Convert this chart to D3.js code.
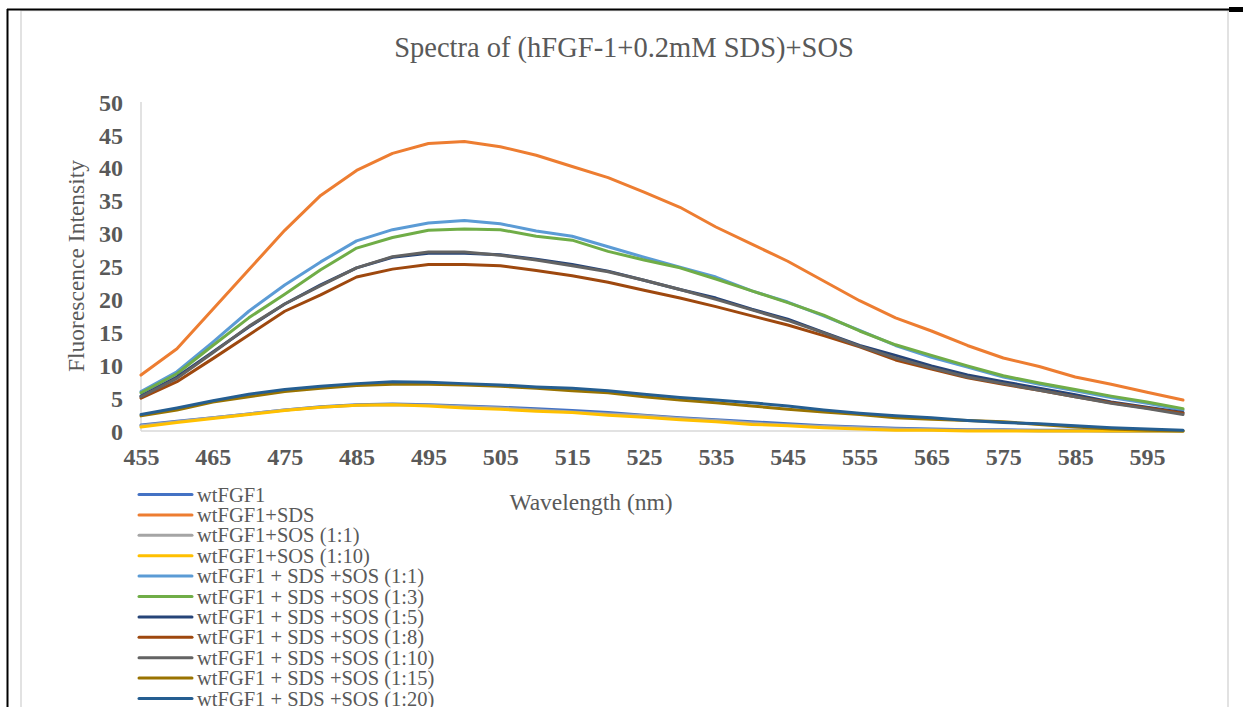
<!DOCTYPE html>
<meta charset="utf-8">
<title>Spectra of (hFGF-1+0.2mM SDS)+SOS</title>
<style>
body { margin: 0; background: #fff; }
svg { display: block; font-family: "Times New Roman", "Liberation Serif", serif; }
.tick text { fill: #595959; font-weight: bold; font-size: 24px; font-family: "Times New Roman", "Liberation Serif", serif; }
</style>
<svg width="1243" height="707"></svg>
<script src="https://cdn.jsdelivr.net/npm/d3@7"></script>
<script>

// wavelengths (nm), one point every 5 nm
var wavelength = [455, 460, 465, 470, 475, 480, 485, 490, 495, 500,
                  505, 510, 515, 520, 525, 530, 535, 540, 545, 550,
                  555, 560, 565, 570, 575, 580, 585, 590, 595, 600];

var xTicks = [455, 465, 475, 485, 495, 505, 515, 525, 535, 545, 555, 565, 575, 585, 595];
var yTicks = [0, 5, 10, 15, 20, 25, 30, 35, 40, 45, 50];

// series values
var wtFGF1 = [0.9, 1.5, 2.0, 2.6, 3.2, 3.7, 4.0, 4.1, 4.0, 3.8, 3.6, 3.4, 3.1, 2.8, 2.4, 2.0, 1.7, 1.4, 1.1, 0.8, 0.6, 0.4, 0.3, 0.2, 0.2, 0.1, 0.1, 0.0, 0.0, 0.0];
var wtSDS = [8.5, 12.5, 18.5, 24.5, 30.5, 35.8, 39.6, 42.2, 43.7, 44.0, 43.2, 41.9, 40.2, 38.5, 36.3, 34.0, 31.0, 28.4, 25.8, 22.8, 19.8, 17.2, 15.2, 13.0, 11.1, 9.8, 8.2, 7.1, 5.9, 4.7];
var wtSOS11 = [0.8, 1.4, 2.0, 2.6, 3.2, 3.6, 3.9, 4.0, 3.9, 3.7, 3.5, 3.2, 2.9, 2.6, 2.3, 1.9, 1.6, 1.2, 0.9, 0.7, 0.5, 0.3, 0.2, 0.1, 0.1, 0.0, 0.0, 0.0, 0.0, 0.0];
var wtSOS110 = [0.6, 1.3, 1.9, 2.5, 3.1, 3.6, 3.9, 4.0, 3.8, 3.5, 3.3, 3.0, 2.8, 2.4, 2.1, 1.7, 1.4, 1.0, 0.8, 0.5, 0.3, 0.1, 0.1, 0.0, 0.0, 0.0, 0.0, 0.0, 0.0, 0.0];
var sdsSOS11 = [6.0, 9.0, 13.5, 18.2, 22.2, 25.7, 28.9, 30.6, 31.6, 32.0, 31.5, 30.4, 29.6, 28.0, 26.4, 24.9, 23.4, 21.3, 19.6, 17.5, 15.3, 13.0, 11.2, 9.7, 8.2, 7.1, 6.1, 5.1, 4.2, 3.2];
var sdsSOS13 = [5.8, 8.7, 13.0, 17.2, 20.8, 24.5, 27.8, 29.4, 30.5, 30.7, 30.6, 29.6, 29.0, 27.3, 26.0, 24.8, 23.1, 21.3, 19.5, 17.6, 15.2, 13.1, 11.5, 9.9, 8.4, 7.3, 6.3, 5.3, 4.4, 3.4];
var sdsSOS15 = [5.3, 8.2, 12.0, 15.8, 19.3, 22.2, 24.8, 26.4, 27.0, 27.0, 26.8, 26.1, 25.3, 24.3, 22.9, 21.5, 20.2, 18.5, 17.0, 15.0, 13.0, 11.5, 9.9, 8.5, 7.5, 6.5, 5.5, 4.4, 3.6, 2.8];
var sdsSOS18 = [5.0, 7.5, 11.0, 14.6, 18.2, 20.7, 23.4, 24.6, 25.3, 25.3, 25.1, 24.4, 23.6, 22.6, 21.4, 20.2, 18.9, 17.5, 16.1, 14.5, 12.8, 10.8, 9.4, 8.1, 7.1, 6.2, 5.2, 4.3, 3.5, 2.7];
var sdsSOS110 = [5.2, 8.0, 11.9, 15.9, 19.3, 22.1, 24.8, 26.5, 27.2, 27.2, 26.7, 26.0, 25.1, 24.2, 22.9, 21.5, 20.0, 18.4, 16.8, 14.9, 12.9, 11.1, 9.6, 8.2, 7.2, 6.2, 5.2, 4.2, 3.4, 2.5];
var sdsSOS115 = [2.3, 3.2, 4.4, 5.2, 6.0, 6.5, 6.9, 7.1, 7.1, 7.0, 6.8, 6.5, 6.1, 5.8, 5.2, 4.7, 4.3, 3.8, 3.3, 2.9, 2.5, 2.0, 1.8, 1.6, 1.4, 1.0, 0.6, 0.3, 0.1, 0.0];
var sdsSOS120 = [2.5, 3.5, 4.6, 5.6, 6.3, 6.8, 7.2, 7.5, 7.4, 7.2, 7.0, 6.7, 6.5, 6.1, 5.6, 5.1, 4.7, 4.3, 3.8, 3.2, 2.7, 2.3, 2.0, 1.6, 1.3, 1.1, 0.8, 0.5, 0.3, 0.1];

var seriesNames = ["wtFGF1", "wtFGF1+SDS", "wtFGF1+SOS (1:1)", "wtFGF1+SOS (1:10)",
  "wtFGF1 + SDS +SOS (1:1)", "wtFGF1 + SDS +SOS (1:3)", "wtFGF1 + SDS +SOS (1:5)",
  "wtFGF1 + SDS +SOS (1:8)", "wtFGF1 + SDS +SOS (1:10)", "wtFGF1 + SDS +SOS (1:15)",
  "wtFGF1 + SDS +SOS (1:20)"];
var seriesValues = [wtFGF1, wtSDS, wtSOS11, wtSOS110, sdsSOS11, sdsSOS13, sdsSOS15,
  sdsSOS18, sdsSOS110, sdsSOS115, sdsSOS120];
var seriesColors = ["#4472c4", "#ed7d31", "#a5a5a5", "#ffc000", "#5b9bd5", "#70ad47",
  "#264478", "#9e480e", "#636363", "#997300", "#255e91"];

var svg = d3.select("svg");

// outer frame (black) and chart area (light grey)
svg.append("rect").attr("x", 21).attr("y", 10.5).attr("width", 1207).attr("height", 720)
  .attr("fill", "none").attr("stroke", "#d9d9d9").attr("stroke-width", 1.5);
svg.append("line").attr("x1", 7).attr("x2", 1243).attr("y1", 9.5).attr("y2", 9.5)
  .attr("stroke", "#000").attr("stroke-width", 2);
svg.append("line").attr("x1", 7.5).attr("x2", 7.5).attr("y1", 9).attr("y2", 707)
  .attr("stroke", "#000").attr("stroke-width", 2);
svg.append("rect").attr("x", 1229).attr("y", 7).attr("width", 14).attr("height", 5).attr("fill", "#000");

var x = d3.scaleLinear().domain([455, 600]).range([141, 1183]);
var y = d3.scaleLinear().domain([0, 50]).range([431, 102]);

// title
svg.append("text")
  .attr("x", 624).attr("y", 57)
  .attr("text-anchor", "middle")
  .attr("fill", "#595959")
  .style("font-size", "28.5px")
  .text("Spectra of (hFGF-1+0.2mM SDS)+SOS");

// axes
var xAxis = svg.append("g")
  .attr("transform", "translate(0,431)")
  .call(d3.axisBottom(x).tickValues(xTicks).tickSize(0).tickPadding(17).tickFormat(d3.format("d")));
xAxis.select(".domain").remove();

var yAxis = svg.append("g")
  .attr("transform", "translate(123,0)")
  .call(d3.axisLeft(y).tickValues(yTicks).tickSize(0).tickPadding(0).tickFormat(d3.format("d")));
yAxis.select(".domain").remove();
yAxis.selectAll(".tick text").attr("dy", "0.34em");

svg.append("line").attr("x1", 141).attr("x2", 141).attr("y1", 102).attr("y2", 431)
  .attr("stroke", "#d9d9d9").attr("stroke-width", 1.5);
svg.append("line").attr("x1", 141).attr("x2", 1183).attr("y1", 431).attr("y2", 431)
  .attr("stroke", "#d9d9d9").attr("stroke-width", 1.5);

// axis titles
svg.append("text")
  .attr("transform", "translate(84,266) rotate(-90)")
  .attr("text-anchor", "middle")
  .attr("fill", "#595959")
  .style("font-size", "23.5px")
  .text("Fluorescence Intensity");

svg.append("text")
  .attr("x", 591).attr("y", 510)
  .attr("text-anchor", "middle")
  .attr("fill", "#595959")
  .style("font-size", "23.5px")
  .text("Wavelength (nm)");

// lines
var line = d3.line()
  .x(function(d, i) { return x(wavelength[i]); })
  .y(function(d) { return y(d); });

svg.append("g").selectAll("path")
  .data(seriesValues)
  .enter().append("path")
  .attr("fill", "none")
  .attr("stroke", function(d, i) { return seriesColors[i]; })
  .attr("stroke-width", 3)
  .attr("stroke-linejoin", "round")
  .attr("stroke-linecap", "round")
  .attr("d", line);

// legend
var legend = svg.append("g").selectAll("g")
  .data(seriesNames)
  .enter().append("g")
  .attr("transform", function(d, i) { return "translate(0," + (494.5 + i * 20.4) + ")"; });

legend.append("line")
  .attr("x1", 139).attr("x2", 192)
  .attr("stroke", function(d, i) { return seriesColors[i]; })
  .attr("stroke-width", 3)
  .attr("stroke-linecap", "round");

legend.append("text")
  .attr("x", 197).attr("y", 7)
  .attr("fill", "#595959")
  .style("font-size", "20.5px")
  .text(function(d) { return d; });

</script>
